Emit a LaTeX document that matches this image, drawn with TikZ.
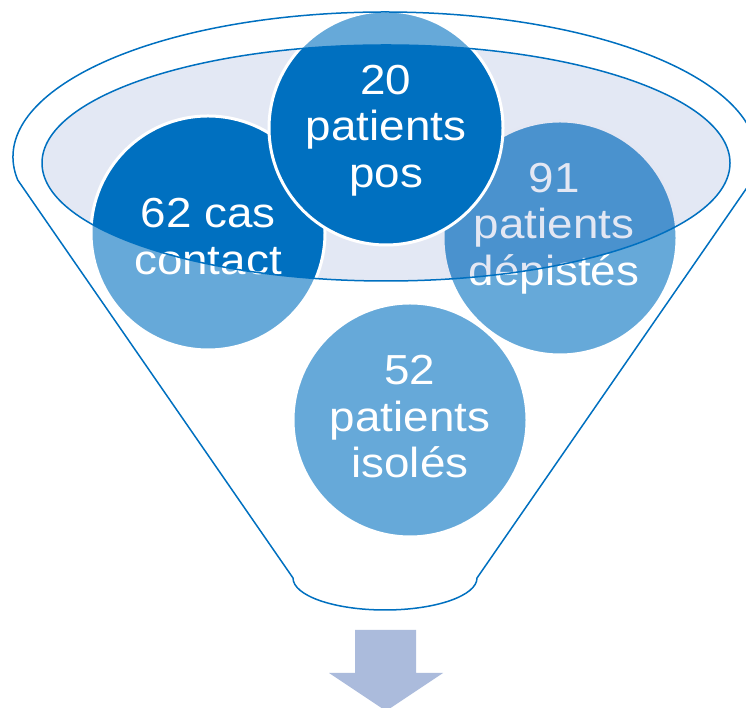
\documentclass[tikz,border=0pt]{standalone}
\usepackage{fontspec}
\setmainfont[FakeStretch=1.09]{Liberation Sans}
\definecolor{fblue}{RGB}{0,112,192}
\definecolor{lav}{RGB}{185,197,227}
\definecolor{arrowblue}{RGB}{171,187,220}
\begin{document}
\begin{tikzpicture}[x=1pt,y=1pt,
  bubble/.style={circle, fill=fblue, draw=white, line width=3pt, minimum size=234pt, inner sep=0pt},
  bubbletext/.style={text=white, align=center, font=\fontsize{42}{46.5}\selectfont, inner sep=0pt},
  outline/.style={draw=fblue, line width=1.5pt}]
\useasboundingbox (0,0) rectangle (746,708);
\clip (0,0) rectangle (746,708);
% back circles
\node[bubble] (c91) at (560,470) {};
\node[bubbletext] (t91) at (554,479.5) {91\\patients\\dépistés};
\node[bubble] (c52) at (410,288) {};
\node[bubbletext] (t52) at (410,291) {52\\patients\\isolés};
% lavender top of funnel
\fill[lav, fill opacity=0.4] (386,545) ellipse [x radius=344, y radius=118];
% front circles
\node[bubble] (c62) at (208,475) {};
\node[bubbletext] (t62) at (208,471.5) {62 cas\\contact};
\node[bubble] (c20) at (386,580) {};
\node[bubbletext] (t20) at (386,577.5) {20\\patients\\pos};
% white veil outside the top ellipse
\fill[white, fill opacity=0.4, even odd rule] (-10,-10) rectangle (760,720) (386,545) ellipse [x radius=344, y radius=118];
% outlines
\draw[outline] (386,545) ellipse [x radius=344, y radius=118];
\draw[outline, line join=round] (385,551) +(189.13:372 and 145) arc[start angle=189.13, end angle=-9.13, x radius=372, y radius=145]
  -- (477,130) arc[start angle=0, end angle=-180, x radius=92, y radius=32] -- cycle;
% arrow
\fill[arrowblue] (355,78) -- (416,78) -- (416,35) -- (443,35) -- (386,-3) -- (329,35) -- (355,35) -- cycle;
\end{tikzpicture}
\end{document}
